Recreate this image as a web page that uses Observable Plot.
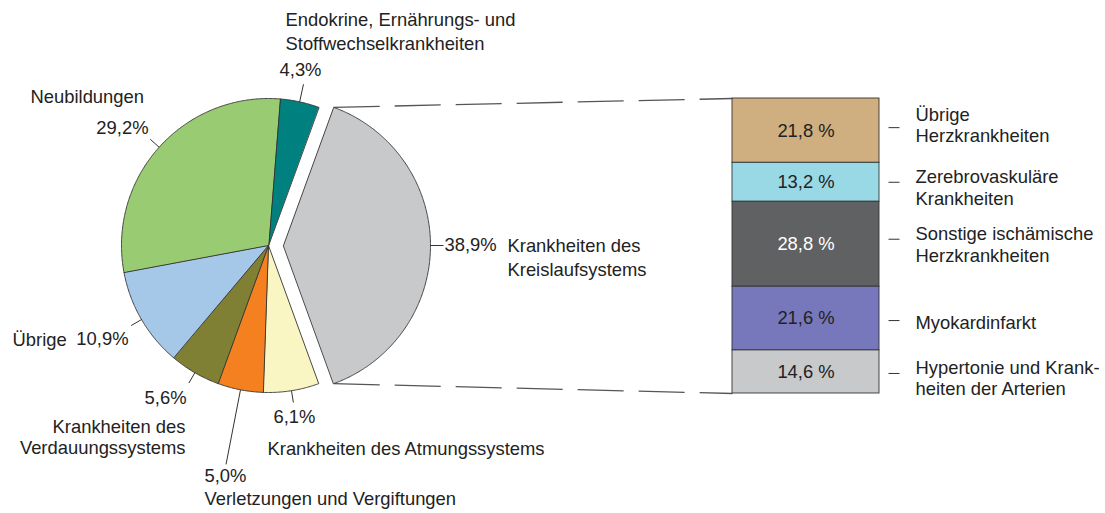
<!DOCTYPE html>
<html>
<head>
<meta charset="utf-8">
<script src="https://cdn.jsdelivr.net/npm/d3@7"></script>
<script src="https://cdn.jsdelivr.net/npm/@observablehq/plot@0.6"></script>
<style>
  html, body { margin: 0; padding: 0; background: #fff; }
  #chart svg { display: block; }
</style>
</head>
<body>
<div id="chart"></div>
<script>
// ---------- DATA ----------
const pieCategories = [
  "Endokrine, Ernährungs- und Stoffwechselkrankheiten",
  "Krankheiten des Kreislaufsystems",
  "Krankheiten des Atmungssystems",
  "Verletzungen und Vergiftungen",
  "Krankheiten des Verdauungssystems",
  "Übrige",
  "Neubildungen"
];
const pieValues = [4.3, 38.9, 6.1, 5.0, 5.6, 10.9, 29.2];
const pieValueLabels = ["4,3%", "38,9%", "6,1%", "5,0%", "5,6%", "10,9%", "29,2%"];
const pieNameLabels = [
  "Endokrine, Ernährungs- und\nStoffwechselkrankheiten",
  "Krankheiten des\nKreislaufsystems",
  "Krankheiten des Atmungssystems",
  "Verletzungen und Vergiftungen",
  "Krankheiten des\nVerdauungssystems",
  "Übrige",
  "Neubildungen"
];

// breakdown of "Krankheiten des Kreislaufsystems" (top to bottom)
const barCategories = [
  "Übrige Herzkrankheiten",
  "Zerebrovaskuläre Krankheiten",
  "Sonstige ischämische Herzkrankheiten",
  "Myokardinfarkt",
  "Hypertonie und Krankheiten der Arterien"
];
const barValues = [21.8, 13.2, 28.8, 21.6, 14.6];
const barValueLabels = ["21,8 %", "13,2 %", "28,8 %", "21,6 %", "14,6 %"];
const barNameLabels = [
  "Übrige\nHerzkrankheiten",
  "Zerebrovaskuläre\nKrankheiten",
  "Sonstige ischämische\nHerzkrankheiten",
  "Myokardinfarkt",
  "Hypertonie und Krank-\nheiten der Arterien"
];

// ---------- STYLE / LAYOUT ----------
const pieColors = ["#00807e", "#c8c9cb", "#f9f6c4", "#f48020", "#808034", "#a6c8e8", "#99cc72"];
const barColors = ["#cfae7f", "#99d9e6", "#606163", "#7777bb", "#c8c9cb"];
const barTextColors = ["#222", "#222", "#fff", "#222", "#222"];

const W = 1105, H = 513;
const cx = 268, cy = 245, R = 147;
const explodeIndex = 1, explodeDist = 15;
const barX1 = 732, barX2 = 879, barTop = 98, barBottom = 393;
const FONT = 18.4;

// leader line lengths beyond the rim
const leaderLen = [18, 13, 12, 76, 12, 12, 12];

// label anchor layout [x, y, textAnchor, lineHeight]
const valueLabelPos = [
  [300, 70, "middle"], [444, 245, "start"], [273, 417, "start"], [204, 476, "start"],
  [186, 398, "end"], [128, 339, "end"], [148, 128, "end"]
];
const nameLabelPos = [
  [285, 30, "start", 1.3], [507, 256, "start", 1.3], [267, 448, "start", 1.15], [204, 498, "start", 1.15],
  [185, 436, "end", 1.15], [12, 339, "start", 1.15], [30, 96, "start", 1.15]
];
// bar legend: vertical offsets (px) of tick and text block from segment middle
const barTickOffset = [-3, 0, -5, 2, 1.5];
const barTextOffset = [-6, 5, 0, 3.6, 5.7];

// ---------- GEOMETRY from data ----------
const rad = Math.PI / 180;
const total = d3.sum(pieValues);
// place the exploded slice centred on the 3 o'clock direction
const before = d3.sum(pieValues.slice(0, explodeIndex));
const startAngle = Math.PI / 2 - (before + pieValues[explodeIndex] / 2) / total * 2 * Math.PI;
const arcs = d3.pie().sort(null).value(d => d).startAngle(startAngle).endAngle(startAngle + 2 * Math.PI)(pieValues);

const pt = (ox, oy, r, a) => [ox + r * Math.sin(a), oy - r * Math.cos(a)];

const slicePoints = [];
const sliceInfo = arcs.map((a, i) => {
  const mid = (a.startAngle + a.endAngle) / 2;
  const off = i === explodeIndex ? explodeDist : 0;
  const ox = cx + off * Math.sin(mid), oy = cy - off * Math.cos(mid);
  slicePoints.push({key: i, x: ox, y: oy, color: pieColors[i]});
  const n = Math.max(2, Math.ceil((a.endAngle - a.startAngle) / (0.5 * rad)));
  for (let k = 0; k <= n; k++) {
    const ang = a.startAngle + (a.endAngle - a.startAngle) * k / n;
    const [x, y] = pt(ox, oy, R, ang);
    slicePoints.push({key: i, x, y, color: pieColors[i]});
  }
  return {ox, oy, mid, a0: a.startAngle, a1: a.endAngle};
});

const leaders = sliceInfo.map((s, i) => {
  const [x1, y1] = pt(s.ox, s.oy, R, s.mid);
  const [x2, y2] = pt(s.ox, s.oy, R + leaderLen[i], s.mid);
  return {x1, y1, x2, y2};
});

// stacked bar
const yBar = d3.scaleLinear([0, d3.sum(barValues)], [barTop, barBottom]);
const cum = d3.cumsum(barValues);
const barRects = barValues.map((v, i) => {
  const y1 = yBar(cum[i] - v), y2 = yBar(cum[i]);
  return {y1, y2, mid: (y1 + y2) / 2, i};
});

// connectors from the exploded slice to the bar
const ex = sliceInfo[explodeIndex];
const [tx, ty] = pt(ex.ox, ex.oy, R, ex.a0);
const [bx, by] = pt(ex.ox, ex.oy, R, ex.a1);
const connectors = [
  {x1: tx, y1: ty, x2: barX1, y2: barTop},
  {x1: bx, y1: by, x2: barX1, y2: barBottom}
];

const valueLabels = pieValueLabels.map((t, i) => ({t, x: valueLabelPos[i][0], y: valueLabelPos[i][1], anchor: valueLabelPos[i][2]}));
const nameLabels = pieNameLabels.map((t, i) => ({t, x: nameLabelPos[i][0], y: nameLabelPos[i][1], anchor: nameLabelPos[i][2], lh: nameLabelPos[i][3]}));

const textMarks = [];
for (const anchor of ["start", "middle", "end"]) {
  const v = valueLabels.filter(d => d.anchor === anchor);
  if (v.length) textMarks.push(Plot.text(v, {x: "x", y: "y", text: "t", textAnchor: anchor, fill: "#222"}));
  for (const lh of [1.15, 1.3]) {
    const sub = nameLabels.filter(d => d.anchor === anchor && d.lh === lh);
    if (sub.length) textMarks.push(Plot.text(sub, {x: "x", y: "y", text: "t", textAnchor: anchor, lineHeight: lh, fill: "#222"}));
  }
}

const chart = Plot.plot({
  width: W, height: H,
  margin: 0,
  x: {type: "linear", domain: [0, W], range: [0, W], axis: null},
  y: {type: "linear", domain: [0, H], range: [0, H], axis: null},
  color: {type: "identity"},
  style: {fontFamily: "'Liberation Sans', Arial, Helvetica, sans-serif", fontSize: FONT + "px", background: "#fff"},
  marks: [
    // connectors
    Plot.link(connectors, {x1: "x1", y1: "y1", x2: "x2", y2: "y2", stroke: "#555", strokeWidth: 1.3, strokeDasharray: "46,15"}),
    // pie slices
    Plot.line(slicePoints, {x: "x", y: "y", z: "key", fill: "color", stroke: "#333", strokeWidth: 0.9, curve: "linear-closed"}),
    // leader lines
    Plot.link(leaders, {x1: "x1", y1: "y1", x2: "x2", y2: "y2", stroke: "#333", strokeWidth: 1}),
    // bar
    Plot.rect(barRects, {x1: barX1, x2: barX2, y1: "y1", y2: "y2", fill: d => barColors[d.i], stroke: "#333", strokeWidth: 0.9}),
    Plot.text(barRects, {x: (barX1 + barX2) / 2, y: "mid", text: d => barValueLabels[d.i], fill: d => barTextColors[d.i]}),
    // bar legend ticks and names
    Plot.link(barRects, {x1: 888, x2: 899, y1: d => d.mid + barTickOffset[d.i], y2: d => d.mid + barTickOffset[d.i], stroke: "#333", strokeWidth: 1}),
    Plot.text(barRects, {x: 915, y: d => d.mid + barTextOffset[d.i], text: d => barNameLabels[d.i], textAnchor: "start", lineHeight: 1.15, fill: "#222"}),
    ...textMarks
  ]
});
document.getElementById("chart").appendChild(chart);
</script>
</body>
</html>
